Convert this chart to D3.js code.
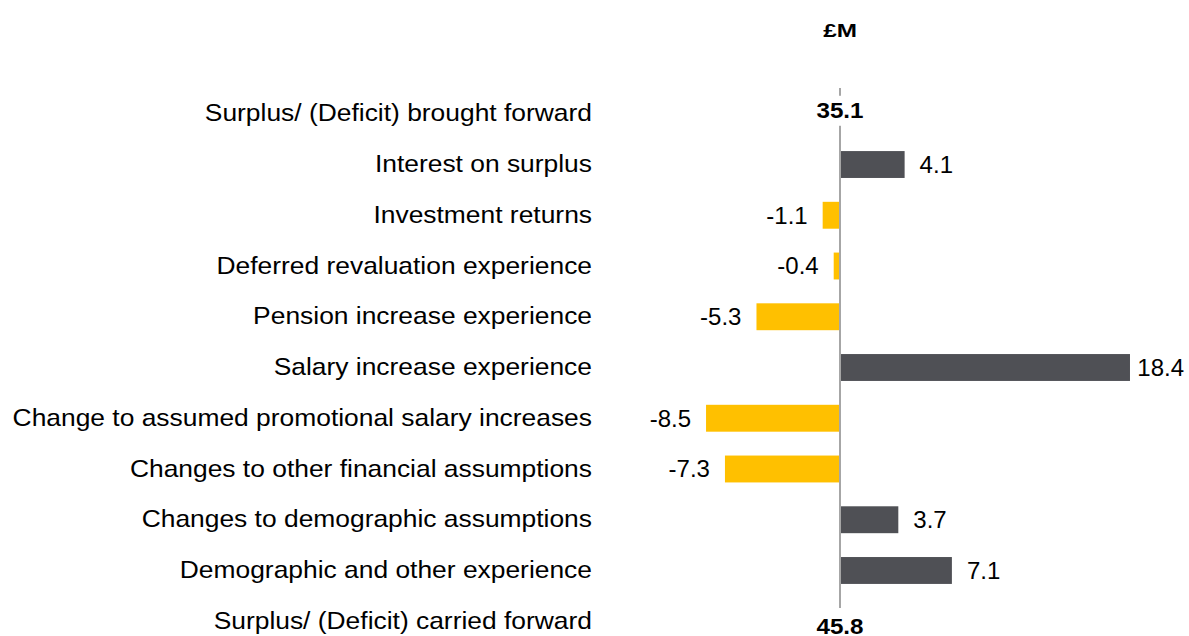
<!DOCTYPE html>
<html>
<head>
<meta charset="utf-8">
<script src="https://cdn.jsdelivr.net/npm/d3@7"></script>
<style>
  body { margin: 0; background: #fff; }
  text { font-family: "Liberation Sans", Arial, sans-serif; }
</style>
</head>
<body>
<div id="wrapper"></div>
<script>
// data
const categories = [
  "Surplus/ (Deficit) brought forward",
  "Interest on surplus",
  "Investment returns",
  "Deferred revaluation experience",
  "Pension increase experience",
  "Salary increase experience",
  "Change to assumed promotional salary increases",
  "Changes to other financial assumptions",
  "Changes to demographic assumptions",
  "Demographic and other experience",
  "Surplus/ (Deficit) carried forward"
]
// null = total row (shown as label only)
const values = [null, 4.1, -1.1, -0.4, -5.3, 18.4, -8.5, -7.3, 3.7, 7.1, null]
const totals = [35.1, null, null, null, null, null, null, null, null, null, 45.8]
const unitLabel = "£M"

function drawChart() {
  const dimensions = { width: 1189, height: 636 }

  const wrapper = d3.select("#wrapper")
    .append("svg")
    .attr("width", dimensions.width)
    .attr("height", dimensions.height)

  // scales
  const xScale = d3.scaleLinear()
    .domain([-10, 20])
    .range([840 - 157.6, 840 + 315.2])

  const yScale = d3.scaleBand()
    .domain(categories)
    .range([88.4, 646.6])
    .paddingInner(0.47)
    .paddingOuter(0.235)

  const x0 = xScale(0)
  const rowMid = d => yScale(d) + yScale.bandwidth() / 2

  // zero line
  wrapper.append("line")
    .attr("x1", x0).attr("x2", x0)
    .attr("y1", 88).attr("y2", 608)
    .attr("stroke", "#a6a6a6")
    .attr("stroke-width", 2)

  const rows = categories.map((c, i) => ({ cat: c, value: values[i], total: totals[i] }))
  const barRows = rows.filter(d => d.value !== null)

  // bars
  wrapper.append("g").selectAll("rect")
    .data(barRows)
    .join("rect")
      .attr("x", d => d.value >= 0 ? x0 + 1 : xScale(d.value))
      .attr("width", d => Math.abs(xScale(d.value) - x0) - 1)
      .attr("y", d => yScale(d.cat))
      .attr("height", yScale.bandwidth())
      .attr("fill", d => d.value >= 0 ? "#4f5055" : "#ffc000")

  // value labels (kept inside the right edge)
  const rightEdge = dimensions.width - 5
  wrapper.append("g").selectAll("text")
    .data(barRows)
    .join("text")
      .attr("y", d => rowMid(d.cat))
      .attr("dy", "0.35em")
      .attr("text-anchor", d => d.value >= 0 ? "start" : "end")
      .attr("font-size", 24)
      .attr("fill", "#000")
      .text(d => d.value.toFixed(1))
      .attr("x", function(d) {
        if (d.value < 0) return xScale(d.value) - 15
        const w = this.getComputedTextLength()
        return Math.min(xScale(d.value) + 15, rightEdge - w)
      })

  // total labels with white backing over the zero line
  const totalRows = rows.filter(d => d.total !== null)
  wrapper.append("g").selectAll("rect")
    .data(totalRows)
    .join("rect")
      .attr("x", x0 - 28)
      .attr("y", (d, i) => rowMid(d.cat) - 15 + (i === 0 ? -3 : 3))
      .attr("width", 56)
      .attr("height", 30)
      .attr("fill", "#fff")

  wrapper.append("g").selectAll("g")
    .data(totalRows)
    .join("g")
      .attr("transform", (d, i) => `translate(${x0},${rowMid(d.cat) + (i === 0 ? -3 : 5)}) scale(1.1,1)`)
    .append("text")
      .attr("dy", "0.35em")
      .attr("text-anchor", "middle")
      .attr("font-size", 22)
      .attr("font-weight", "bold")
      .text(d => d.total.toFixed(1))

  // category axis
  const yAxis = wrapper.append("g")
    .attr("transform", "translate(592,0)")
    .call(d3.axisLeft(yScale).tickSize(0).tickPadding(0))
  yAxis.select(".domain").remove()
  yAxis.selectAll("text")
    .attr("x", 0)
    .attr("transform", "scale(1.1,1)")
    .attr("font-size", 24)
    .attr("font-family", "Liberation Sans, Arial, sans-serif")
    .attr("fill", "#000")

  // unit label
  wrapper.append("g")
    .attr("transform", `translate(${x0},37) scale(1.35,1)`)
    .append("text")
      .attr("text-anchor", "middle")
      .attr("font-size", 18)
      .attr("font-weight", "bold")
      .text(unitLabel)
}
drawChart()
</script>
</body>
</html>
